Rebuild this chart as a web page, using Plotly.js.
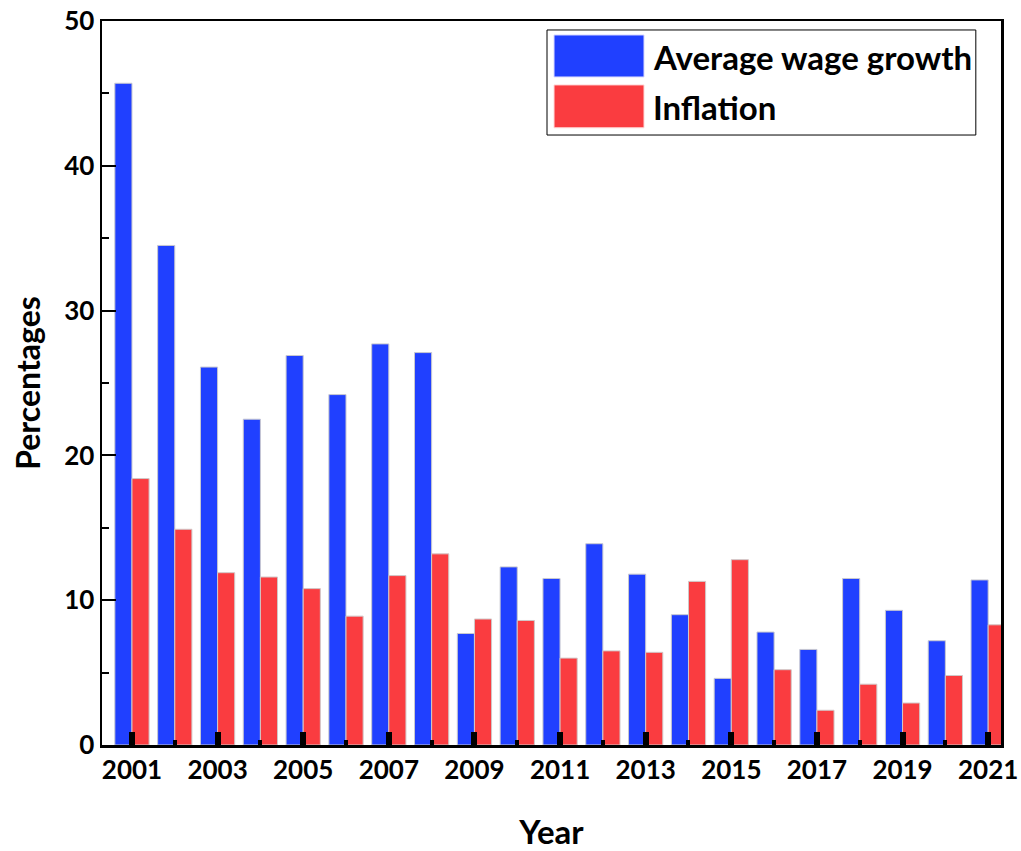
<!DOCTYPE html>
<html>
<head>
<meta charset="utf-8">
<script src="https://cdn.plot.ly/plotly-3.0.1.min.js"></script>
<style>html,body{margin:0;padding:0;background:#fff;}#chart{width:1021px;height:851px;}</style>
</head>
<body>
<div id="chart"></div>
<script>
const years = [2001,2002,2003,2004,2005,2006,2007,2008,2009,2010,2011,2012,2013,2014,2015,2016,2017,2018,2019,2020,2021];
const wageGrowth = [45.7,34.5,26.1,22.5,26.9,24.2,27.7,27.1,7.7,12.3,11.5,13.9,11.8,9.0,4.6,7.8,6.6,11.5,9.3,7.2,11.4];
const inflation = [18.4,14.9,11.9,11.6,10.8,8.9,11.7,13.2,8.7,8.6,6.0,6.5,6.4,11.3,12.8,5.2,2.4,4.2,2.9,4.8,8.3];
const seriesNames = ["Average wage growth", "Inflation"];
const seriesColors = ["#2040ff", "#fa3c40"];

const fontFam = "Lato, 'Open Sans', sans-serif";

const traces = [
  {type:'bar', x:years, y:wageGrowth, name:seriesNames[0],
   marker:{color:seriesColors[0], line:{color:'#c8c8d0', width:1}}, showlegend:false},
  {type:'bar', x:years, y:inflation, name:seriesNames[1],
   marker:{color:seriesColors[1], line:{color:'#d0c8c8', width:1}}, showlegend:false}
];

const layout = {
  width:1021, height:851,
  margin:{l:102, r:20, t:21, b:106},
  paper_bgcolor:'#fff', plot_bgcolor:'#fff',
  barmode:'group', bargap:0.2, bargroupgap:0,
  font:{family:fontFam, color:'#000'},
  xaxis:{
    range:[2000.3, 2021.3], tick0:2001, dtick:2, showgrid:false, zeroline:false,
    ticks:'inside', ticklen:13, tickwidth:6, tickcolor:'#000',
    minor:{dtick:1, tick0:2001, ticks:'inside', ticklen:5, tickwidth:4, tickcolor:'#000', showgrid:false},
    showline:true, linecolor:'#000', linewidth:2.5, mirror:true,
    tickfont:{size:26, family:fontFam, weight:700, color:'#000'},
    title:{text:'Year', font:{size:33, family:fontFam, weight:700, color:'#000'}, standoff:38}
  },
  yaxis:{
    range:[0,50], dtick:10, showgrid:false, zeroline:false,
    ticks:'inside', ticklen:14, tickwidth:2, tickcolor:'#000',
    minor:{dtick:5, ticks:'inside', ticklen:7, tickwidth:2, tickcolor:'#000', showgrid:false},
    showline:true, linecolor:'#000', linewidth:2.5, mirror:true,
    tickfont:{size:26, family:fontFam, weight:700, color:'#000'},
    title:{text:'Percentages', font:{size:32, family:fontFam, weight:700, color:'#000'}, standoff:14}
  },
  shapes:[
    {type:'rect', xref:'paper', yref:'paper', x0:0.495, x1:0.972, y0:0.8425, y1:0.9876,
     line:{color:'#000', width:1}, fillcolor:'#fff', layer:'above'},
    {type:'rect', xref:'paper', yref:'paper', x0:0.5028, x1:0.6029, y0:0.9227, y1:0.9807,
     line:{color:'#d8d8ff', width:1}, fillcolor:seriesColors[0], layer:'above'},
    {type:'rect', xref:'paper', yref:'paper', x0:0.5028, x1:0.6029, y0:0.8525, y1:0.9117,
     line:{color:'#ffd8d8', width:1}, fillcolor:seriesColors[1], layer:'above'}
  ],
  annotations:[
    {xref:'paper', yref:'paper', x:0.611, y:0.9503, xanchor:'left', yanchor:'middle', showarrow:false,
     text:seriesNames[0], font:{size:33, family:fontFam, weight:700, color:'#000'}},
    {xref:'paper', yref:'paper', x:0.611, y:0.881, xanchor:'left', yanchor:'middle', showarrow:false,
     text:seriesNames[1], font:{size:33, family:fontFam, weight:700, color:'#000'}}
  ]
};

Plotly.newPlot('chart', traces, layout, {displayModeBar:false, staticPlot:true});
</script>
</body>
</html>
